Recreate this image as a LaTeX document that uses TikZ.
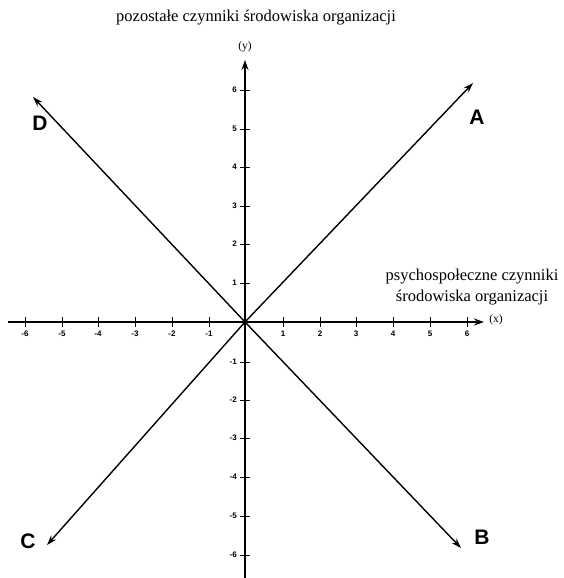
\documentclass[tikz,border=0pt]{standalone}
\usepackage{fontspec}
\setmainfont{Liberation Serif}
\newfontfamily\arialf{Liberation Sans}
\usetikzlibrary{arrows.meta}
\begin{document}
\begin{tikzpicture}[x=1pt,y=-1pt,
  axisline/.style={line width=2pt,-{Stealth[length=10pt,width=7pt]}},
  diagline/.style={line width=1.4pt,-{Stealth[length=10pt,width=6.5pt]}},
  ticklbl/.style={font=\arialf\fontsize{8}{9}\selectfont\bfseries,inner sep=0pt},
  biglbl/.style={font=\arialf\fontsize{21}{23}\selectfont\bfseries,inner sep=0pt},
  txtlbl/.style={font=\fontsize{16.5}{21}\selectfont,inner sep=0pt,align=center},
  axlbl/.style={font=\fontsize{11.5}{12}\selectfont,inner sep=0pt},
  tickmark/.style={line width=0.7pt}]
\useasboundingbox (0,0) rectangle (564,578);
\coordinate (O) at (245,322);
\coordinate (xs) at (8,322);
\coordinate (xe) at (484,322);
\coordinate (ys) at (245,578);
\coordinate (ye) at (245,60);
\draw[axisline] (xs) -- (xe);
\draw[axisline] (ys) -- (ye);
\coordinate (a) at (473,83);
\coordinate (b) at (461,548);
\coordinate (c) at (47,545);
\coordinate (d) at (33,97);
\draw[diagline] (O) -- (a);
\draw[diagline] (O) -- (b);
\draw[diagline] (O) -- (c);
\draw[diagline] (O) -- (d);
\fill (O) circle (2.8);
% x ticks
\foreach \v/\px in {-6/25,-5/62,-4/98,-3/135,-2/172,-1/209,1/283,2/320,3/356,4/393,5/430,6/467}{
  \draw[tickmark] (\px,317) -- (\px,327);
  \node[ticklbl] at (\px,334) {\v};
}
% y ticks
\foreach \v/\py in {6/90,5/129,4/167,3/206,2/244,1/283,-1/362,-2/400,-3/438,-4/477,-5/516,-6/555}{
  \draw[tickmark] (240,\py) -- (250,\py);
  \node[ticklbl,anchor=east] at (237,\py) {\v};
}
\node[axlbl] (xl) at (496,320) {(x)};
\node[axlbl] (yl) at (245,47) {(y)};
\node[biglbl] (A) at (477,117) {A};
\node[biglbl] (B) at (482,537) {B};
\node[biglbl] (C) at (28,541) {C};
\node[biglbl] (D) at (40,123) {D};
\node[txtlbl] (t1) at (256,18) {pozostałe czynniki środowiska organizacji};
\node[txtlbl] (t2) at (472,287) {psychospołeczne czynniki\\środowiska organizacji};
\end{tikzpicture}
\end{document}
